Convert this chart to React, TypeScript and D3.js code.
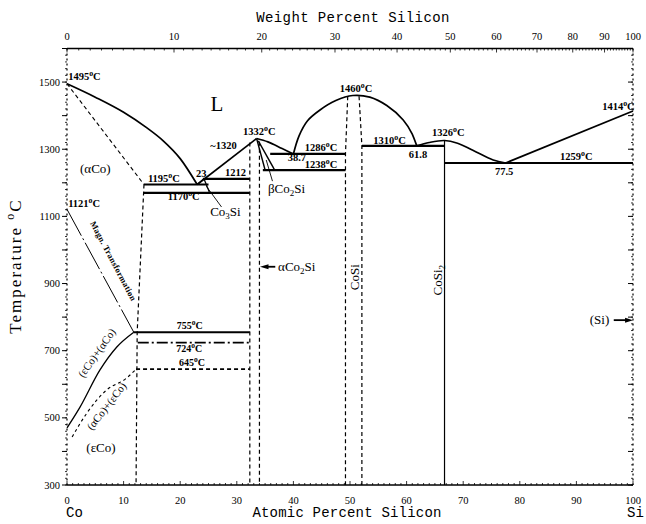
import React from 'react';
import * as d3 from 'd3';

const W = 646;
const H = 524;

// axis ticks
const atTicks = [0, 10, 20, 30, 40, 50, 60, 70, 80, 90, 100];
const wtTicks = [0, 10, 20, 30, 40, 50, 60, 70, 80, 90, 100];
const tempTicks = [300, 500, 700, 900, 1100, 1300, 1500];

// curves [at.% Si, °C]
const liquidusCo = [[0, 1495], [5, 1455], [10, 1410], [14, 1365], [17, 1325], [20, 1272], [23, 1195]];
const solidusCo = [[0, 1495], [13.6, 1195]];
const liquidusCo2SiL = [[23, 1195], [33.5, 1332]];
const liquidusCo2SiR = [[33.5, 1332], [35.5, 1322], [38, 1302], [40, 1286]];
const domeCoSi = [[40, 1286], [41, 1340], [42.5, 1385], [44.7, 1417], [47.5, 1445], [50.5, 1460], [53.5, 1455], [56.5, 1430], [59.4, 1387], [61, 1345], [61.8, 1310]];
const liquidusCoSi2 = [[61.8, 1310], [64, 1320], [66.7, 1326], [69, 1318], [71.7, 1297], [75.3, 1268], [77.5, 1259]];
const liquidusSi = [[77.5, 1259], [100, 1414]];
const epsAlphaSolid = [[0, 470], [2.3, 532], [5.8, 642], [8.8, 711], [11.8, 755]];
const alphaEpsDashed = [[0.9, 443], [3.5, 514], [7, 583], [10.5, 618], [12.2, 645]];
const magnLine = [[0, 1121], [11.8, 755]];
const betaLines = [[[33.5, 1332], [35.0, 1238]], [[33.8, 1325], [36.7, 1238]]];
const co3SiLines = [[[23, 1195], [24.2, 1212]], [[24.2, 1212], [25.2, 1170]]];

// invariant horizontals [T, from, to, style]
const horizontals: [number, number, number, string][] = [
  [1195, 13.6, 25, 'solid'],
  [1212, 24, 32.3, 'solid'],
  [1170, 13.6, 32.3, 'solid'],
  [1286, 35.9, 49.2, 'solid'],
  [1238, 34.6, 49.2, 'solid'],
  [1310, 52.1, 66.7, 'solid'],
  [1259, 66.7, 100, 'solid'],
  [755, 11.8, 32.3, 'solid'],
  [724, 12.5, 32.3, 'dashdot'],
  [645, 12.2, 32.3, 'dashed'],
];

// dashed phase boundaries
const dashedBounds = [
  [[13.6, 1195], [12.4, 755], [12.2, 300]],
  [[32.3, 1320], [32.3, 300]],
  [[34.0, 1322], [34.0, 300]],
  [[49.6, 1458], [49.2, 1286], [49.2, 300]],
  [[51.6, 1458], [52.1, 1310], [52.1, 300]],
];
const coSi2Line = [[66.7, 1326], [66.7, 300]];

// labels with degree sign [text, at%, T, anchor]
const degLabels: [string, number, number, string][] = [
  ['1495', 0.2, 1506, 'start'],
  ['1460', 48.2, 1470, 'start'],
  ['1414', 100.3, 1417, 'end'],
  ['1121', 0.2, 1128, 'start'],
  ['1195', 14.3, 1202, 'start'],
  ['1170', 17.8, 1149, 'start'],
  ['1332', 31.1, 1342, 'start'],
  ['1286', 42, 1295, 'start'],
  ['1238', 42, 1244, 'start'],
  ['1310', 54.1, 1316, 'start'],
  ['1326', 64.5, 1339, 'start'],
  ['1259', 87.1, 1268, 'start'],
  ['755', 19.4, 765, 'start'],
  ['724', 19.3, 695, 'start'],
  ['645', 19.8, 653, 'start'],
];
const plainLabels: [string, number, number][] = [
  ['23', 22.8, 1217],
  ['1212', 27.9, 1220],
  ['~1320', 25.3, 1300],
  ['38.7', 39, 1265],
  ['61.8', 60.4, 1274],
  ['77.5', 75.6, 1223],
];

const coToWt = (w: number) => {
  const si = w / 28.086;
  const co = (100 - w) / 58.933;
  return (100 * si) / (si + co);
};

export default function App() {
  const x = d3.scaleLinear().domain([0, 100]).range([67, 633]);
  const y = d3.scaleLinear().domain([300, 1600]).range([485, 48.5]);
  const line = d3.line<number[]>().x((d) => x(d[0])).y((d) => y(d[1]));
  const curve = d3.line<number[]>().x((d) => x(d[0])).y((d) => y(d[1])).curve(d3.curveMonotoneX);
  const curveCR = d3.line<number[]>().x((d) => x(d[0])).y((d) => y(d[1])).curve(d3.curveCatmullRom.alpha(0.5));

  const serif = 'Liberation Serif, serif';
  const mono = 'Liberation Mono, monospace';
  const lw = 1.7;

  const minorAt = d3.range(0, 101, 1);
  const minorWt = d3.range(0, 101, 1);
  const minorT = d3.range(300, 1601, 20);
  const majorT = d3.range(300, 1601, 100);

  const dash = (s: string) => (s === 'dashed' ? '4,3' : s === 'dashdot' ? '11,3,2,3' : undefined);

  const Deg = ({ t, xx, yy, anchor, fs = 10.5 }: any) => (
    <text x={xx} y={yy} textAnchor={anchor} fontFamily={serif} fontSize={fs} fontWeight="bold">
      {t}
      <tspan dy={-4} fontSize={fs * 0.75}>o</tspan>
      <tspan dy={4}>C</tspan>
    </text>
  );

  return (
    <svg width={W} height={H} style={{ position: 'absolute', left: 0, top: 0, background: '#fff' }}>
      <rect x={0} y={0} width={W} height={H} fill="#fff" />
      {/* frame */}
      <line x1={x(0)} x2={x(100)} y1={y(1600)} y2={y(1600)} stroke="#000" strokeWidth={1.6} />
      <line x1={x(0)} x2={x(100)} y1={y(300)} y2={y(300)} stroke="#000" strokeWidth={1.6} />
      <line x1={x(0)} x2={x(0)} y1={y(1600)} y2={y(300)} stroke="#000" strokeWidth={1.2} strokeDasharray="2,3" />
      <line x1={x(100)} x2={x(100)} y1={y(1600)} y2={y(300)} stroke="#000" strokeWidth={1.2} strokeDasharray="2,3" />

      {/* top axis (weight percent) */}
      {minorWt.map((w) => (
        <line key={'wm' + w} x1={x(coToWt(w))} x2={x(coToWt(w))} y1={y(1600)} y2={y(1600) + (w % 10 === 0 ? 4 : 2)} stroke="#000" strokeWidth={0.8} />
      ))}
      {wtTicks.map((w) => (
        <text key={'wt' + w} x={x(coToWt(w))} y={40} textAnchor="middle" fontFamily={serif} fontSize={10.5}>{w}</text>
      ))}
      {/* bottom axis (atomic percent) */}
      {minorAt.map((a) => (
        <line key={'am' + a} x1={x(a)} x2={x(a)} y1={y(300)} y2={y(300) - (a % 10 === 0 ? 4 : 2)} stroke="#000" strokeWidth={0.8} />
      ))}
      {atTicks.map((a) => (
        <text key={'at' + a} x={x(a)} y={504} textAnchor="middle" fontFamily={serif} fontSize={10.5}>{a}</text>
      ))}
      {/* left & right axes ticks */}
      {minorT.map((t) => (
        <g key={'tm' + t}>
          <line x1={x(0) - 2} x2={x(0)} y1={y(t)} y2={y(t)} stroke="#000" strokeWidth={0.8} />
          <line x1={x(100) - 2} x2={x(100)} y1={y(t)} y2={y(t)} stroke="#000" strokeWidth={0.8} />
        </g>
      ))}
      {majorT.map((t) => (
        <g key={'tM' + t}>
          <line x1={x(0) - 5} x2={x(0)} y1={y(t)} y2={y(t)} stroke="#000" strokeWidth={1} />
          <line x1={x(100) - 5} x2={x(100)} y1={y(t)} y2={y(t)} stroke="#000" strokeWidth={1} />
        </g>
      ))}
      {tempTicks.map((t) => (
        <text key={'tt' + t} x={60} y={y(t) + 3.5} textAnchor="end" fontFamily={serif} fontSize={10.5}>{t}</text>
      ))}

      {/* axis titles */}
      <text x={353} y={22} textAnchor="middle" fontFamily={mono} fontSize={14} letterSpacing={0.4}>Weight Percent Silicon</text>
      <text x={347} y={517} textAnchor="middle" fontFamily={mono} fontSize={14} letterSpacing={0.2}>Atomic Percent Silicon</text>
      <text x={66} y={517} fontFamily={mono} fontSize={14}>Co</text>
      <text x={627} y={517} fontFamily={mono} fontSize={14}>Si</text>
      <text transform={`translate(21,${266}) rotate(-90)`} textAnchor="middle" fontFamily={serif} fontSize={17} letterSpacing={2}>
        Temperature <tspan dy={-7} fontSize={12}>o</tspan><tspan dy={7}>C</tspan>
      </text>

      {/* phase boundaries */}
      <path d={curve(liquidusCo) || ''} fill="none" stroke="#000" strokeWidth={lw} />
      <path d={line(solidusCo) || ''} fill="none" stroke="#000" strokeWidth={1.1} strokeDasharray="4,3" />
      <path d={line(liquidusCo2SiL) || ''} fill="none" stroke="#000" strokeWidth={lw} />
      <path d={curve(liquidusCo2SiR) || ''} fill="none" stroke="#000" strokeWidth={lw} />
      <path d={curveCR(domeCoSi) || ''} fill="none" stroke="#000" strokeWidth={lw} />
      <path d={curveCR(liquidusCoSi2) || ''} fill="none" stroke="#000" strokeWidth={lw} />
      <path d={line(liquidusSi) || ''} fill="none" stroke="#000" strokeWidth={lw} />
      <path d={curve(epsAlphaSolid) || ''} fill="none" stroke="#000" strokeWidth={1.3} />
      <path d={curve(alphaEpsDashed) || ''} fill="none" stroke="#000" strokeWidth={1.1} strokeDasharray="3,3" />
      <path d={line(magnLine) || ''} fill="none" stroke="#000" strokeWidth={1} strokeDasharray="30,3,2,3" />
      {betaLines.map((l, i) => (
        <path key={'b' + i} d={line(l) || ''} fill="none" stroke="#000" strokeWidth={1.4} />
      ))}
      {co3SiLines.map((l, i) => (
        <path key={'c' + i} d={line(l) || ''} fill="none" stroke="#000" strokeWidth={1.3} />
      ))}
      {horizontals.map(([t, a, b, s], i) => (
        <line key={'h' + i} x1={x(a)} x2={x(b)} y1={y(t)} y2={y(t)} stroke="#000" strokeWidth={s === 'solid' ? 2.2 : 1.8} strokeDasharray={dash(s)} />
      ))}
      {dashedBounds.map((l, i) => (
        <path key={'d' + i} d={line(l) || ''} fill="none" stroke="#000" strokeWidth={1.2} strokeDasharray="4,3" />
      ))}
      <path d={line(coSi2Line) || ''} fill="none" stroke="#000" strokeWidth={1.2} />

      {/* pointers & arrows */}
      <line x1={x(24.6)} y1={y(1190)} x2={x(27.3)} y2={y(1128)} stroke="#000" strokeWidth={0.9} />
      <line x1={x(36.3)} y1={y(1205)} x2={x(35.2)} y2={y(1268)} stroke="#000" strokeWidth={0.9} />
      <line x1={x(36.8)} y1={y(950)} x2={x(35.2)} y2={y(950)} stroke="#000" strokeWidth={1.8} />
      <path d={`M${x(34.1)},${y(950)} L${x(35.6)},${y(950) - 2.5} L${x(35.6)},${y(950) + 2.5} Z`} fill="#000" />
      <line x1={x(96.6)} y1={y(791)} x2={x(99)} y2={y(791)} stroke="#000" strokeWidth={1.8} />
      <path d={`M${x(100)},${y(791)} L${x(98.6)},${y(791) - 2.5} L${x(98.6)},${y(791) + 2.5} Z`} fill="#000" />

      {/* labels */}
      {degLabels.map(([t, a, T, anc]) => (
        <Deg key={'dl' + t} t={t} xx={x(a)} yy={y(T)} anchor={anc} fs={t.length === 3 ? 10 : 10.5} />
      ))}
      {plainLabels.map(([t, a, T]) => (
        <text key={'pl' + t} x={x(a)} y={y(T)} fontFamily={serif} fontSize={10.5} fontWeight="bold">{t}</text>
      ))}
      <text x={x(26.5)} y={y(1413)} textAnchor="middle" fontFamily={serif} fontSize={21}>L</text>
      <text x={x(2.3)} y={y(1229)} fontFamily={serif} fontSize={13}>(αCo)</text>
      <text x={x(25.3)} y={y(1101)} fontFamily={serif} fontSize={13}>Co<tspan dy={3} fontSize={9}>3</tspan><tspan dy={-3}>Si</tspan></text>
      <text x={x(35.5)} y={y(1170)} fontFamily={serif} fontSize={13}>βCo<tspan dy={3} fontSize={9}>2</tspan><tspan dy={-3}>Si</tspan></text>
      <text x={x(37.3)} y={y(937)} fontFamily={serif} fontSize={13}>αCo<tspan dy={3} fontSize={9}>2</tspan><tspan dy={-3}>Si</tspan></text>
      <text transform={`translate(${x(50.9) + 4},${y(919)}) rotate(-90)`} textAnchor="middle" fontFamily={serif} fontSize={13}>CoSi</text>
      <text transform={`translate(${x(65.4) + 5},${y(910)}) rotate(-90)`} textAnchor="middle" fontFamily={serif} fontSize={13}>CoSi<tspan dy={3} fontSize={9}>2</tspan></text>
      <text x={x(95.8)} y={y(779)} textAnchor="end" fontFamily={serif} fontSize={13}>(Si)</text>
      <text transform={`translate(${x(5.8)},${y(687)}) rotate(-55)`} textAnchor="middle" fontFamily={serif} fontSize={11}>(εCo)+(αCo)</text>
      <text transform={`translate(${x(7.5)},${y(528)}) rotate(-52)`} textAnchor="middle" fontFamily={serif} fontSize={11}>(αCo)+(εCo)</text>
      <text x={x(6)} y={y(398)} textAnchor="middle" fontFamily={serif} fontSize={13}>(εCo)</text>
      <text transform={`translate(${x(7.2) + 3},${y(963)}) rotate(62)`} textAnchor="middle" fontFamily={serif} fontSize={8.5} fontWeight="bold" letterSpacing={0.3}>Magn.     Transformation</text>
    </svg>
  );
}
